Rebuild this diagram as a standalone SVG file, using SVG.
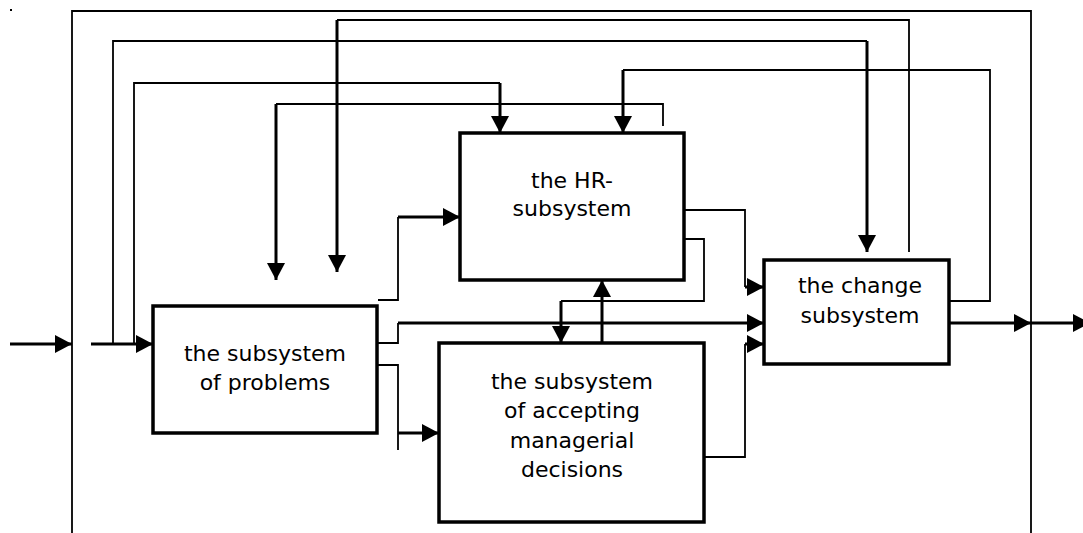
<svg xmlns="http://www.w3.org/2000/svg" width="1083" height="533" viewBox="0 0 1083 533">
<style>
.box{fill:#fff;stroke:#000;stroke-width:3.5}
.thin{fill:none;stroke:#000;stroke-width:1.8}
.thick{fill:none;stroke:#000;stroke-width:3}
.lbl{font-family:"DejaVu Sans",sans-serif;font-size:22px;fill:#000;text-anchor:middle}
</style>
<defs>
<marker id="ah" markerUnits="userSpaceOnUse" markerWidth="17" markerHeight="18" refX="17" refY="9" orient="auto">
<path d="M0,0 L17,9 L0,18 z" fill="#000"/>
</marker>
</defs>
<g id="frame">
<path class="thin" d="M72,533 V11 H1031 V533"/>
<path class="thin" d="M10,10 H12" stroke-width="1"/>
</g>
<g id="connectors">
<path class="thick" d="M10,344 H72" marker-end="url(#ah)"/>
<path class="thick" d="M91,344 H153" marker-end="url(#ah)"/>
<path class="thin" d="M113,344 V41 H867"/>
<path class="thick" d="M867,41 V252" marker-end="url(#ah)"/>
<path class="thin" d="M134,344 V83 H500"/>
<path class="thick" d="M500,83 V133" marker-end="url(#ah)"/>
<path class="thin" d="M663,126 V104 H276"/>
<path class="thick" d="M276,104 V280" marker-end="url(#ah)"/>
<path class="thin" d="M909,252 V20 H337"/>
<path class="thick" d="M337,20 V272" marker-end="url(#ah)"/>
<path class="thin" d="M949,301 H990 V70 H623"/>
<path class="thick" d="M623,70 V133" marker-end="url(#ah)"/>
<path class="thick" d="M949,323 H1031" marker-end="url(#ah)"/>
<path class="thick" d="M1031,323 H1090" marker-end="url(#ah)"/>
<path class="thin" d="M378,300 H398 V217"/>
<path class="thick" d="M398,217 H460" marker-end="url(#ah)"/>
<path class="thin" d="M378,343 H398 V323"/>
<path class="thick" d="M398,323 H764" marker-end="url(#ah)"/>
<path class="thin" d="M378,365 H398 V450"/>
<path class="thick" d="M398,433 H439" marker-end="url(#ah)"/>
<path class="thin" d="M684,210 H745 V287"/>
<path class="thick" d="M745,287 H764" marker-end="url(#ah)"/>
<path class="thin" d="M684,239 H704 V301 H561"/>
<path class="thick" d="M561,301 V343" marker-end="url(#ah)"/>
<path class="thick" d="M602,343 V280" marker-end="url(#ah)"/>
<path class="thin" d="M704,457 H745 V344"/>
<path class="thick" d="M745,344 H764" marker-end="url(#ah)"/>
</g>
<g id="problems">
<rect class="box" x="153" y="306" width="224" height="127"/>
<text class="lbl" x="265" y="361">the subsystem</text>
<text class="lbl" x="265" y="390">of problems</text>
</g>
<g id="hr">
<rect class="box" x="460" y="133" width="224" height="147"/>
<text class="lbl" x="572" y="188">the HR-</text>
<text class="lbl" x="572" y="216">subsystem</text>
</g>
<g id="accepting">
<rect class="box" x="439" y="343" width="265" height="179"/>
<text class="lbl" x="572" y="389">the subsystem</text>
<text class="lbl" x="572" y="418">of accepting</text>
<text class="lbl" x="572" y="448">managerial</text>
<text class="lbl" x="572" y="477">decisions</text>
</g>
<g id="change">
<rect class="box" x="764" y="260" width="185" height="104"/>
<text class="lbl" x="860" y="293">the change</text>
<text class="lbl" x="860" y="323">subsystem</text>
</g>
</svg>
